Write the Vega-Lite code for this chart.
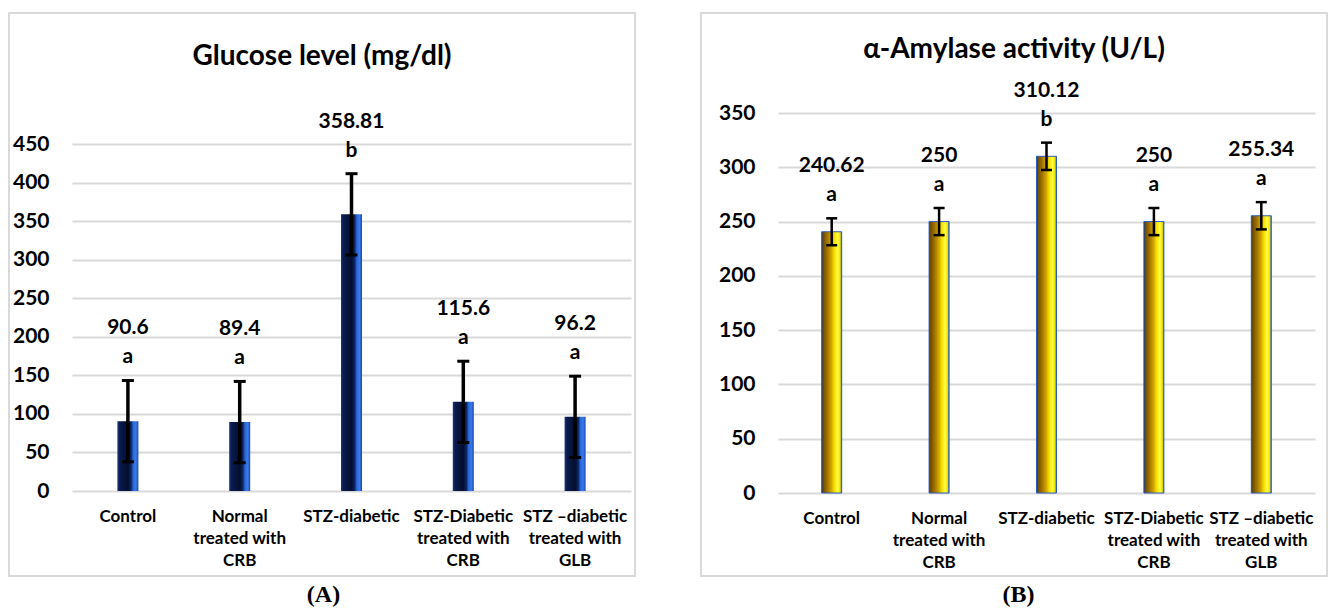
{
  "$schema": "https://vega.github.io/schema/vega-lite/v6.json",
  "background": "white",
  "padding": {"left": 8, "top": 12, "right": 2, "bottom": 2},
  "spacing": 64,
  "config": {
    "font": "Lato",
    "view": {"stroke": "#d9d9d9", "strokeWidth": 2},
    "axis": {"grid": false, "domain": false, "ticks": false, "labelFont": "Lato", "labelFontWeight": "bold", "labelColor": "#000000"}
  },
  "hconcat": [
    {
      "width": 626,
      "height": 563,
      "title": {"text": "Glucose level (mg/dl)", "font": "Lato", "fontSize": 28, "fontWeight": "bold", "color": "#000000", "offset": -80, "baseline": "alphabetic", "anchor": "middle", "frame": "group"},
      "data": {"values": [
        {"group": "Control", "mean": 90.6, "lower": 37.9, "upper": 143.3, "letter": "a"},
        {"group": "Normal treated with CRB", "mean": 89.4, "lower": 36.7, "upper": 142.1, "letter": "a"},
        {"group": "STZ-diabetic", "mean": 358.81, "lower": 306.1, "upper": 411.5, "letter": "b"},
        {"group": "STZ-Diabetic treated with CRB", "mean": 115.6, "lower": 62.9, "upper": 168.3, "letter": "a"},
        {"group": "STZ –diabetic treated with GLB", "mean": 96.2, "lower": 43.5, "upper": 148.9, "letter": "a"}
      ]},
      "encoding": {
        "x": {
          "field": "group", "type": "nominal", "sort": null,
          "scale": {"range": [63, 622], "paddingInner": 0, "paddingOuter": 0},
          "axis": {
            "title": "(A)", "titleFont": "Liberation Serif", "titleFontSize": 24, "titleFontWeight": "bold", "titleColor": "#000000",
            "titleX": 314, "titleY": 110, "titleBaseline": "alphabetic", "titleAlign": "center",
            "offset": -85, "labelAngle": 0, "labelFontSize": 17, "labelPadding": 17, "labelLineHeight": 22,
            "labelBaseline": "top", "labelAlign": "center", "labelLimit": 0,
            "labelExpr": "indexof(datum.value, ' treated with ') > 0 ? [slice(datum.value, 0, indexof(datum.value, ' treated with ')), 'treated with', slice(datum.value, indexof(datum.value, ' treated with ') + 14)] : datum.value"
          }
        }
      },
      "layer": [
        {
          "mark": {"type": "bar", "width": 21, "fill": {"gradient": "linear", "x1": 0, "x2": 1, "y1": 0, "y2": 0, "stops": [
            {"offset": 0, "color": "#18367d"}, {"offset": 0.12, "color": "#0a1b4c"}, {"offset": 0.5, "color": "#040e2e"},
            {"offset": 0.65, "color": "#0b2563"}, {"offset": 0.75, "color": "#2a66d6"}, {"offset": 0.88, "color": "#3a7aea"}, {"offset": 1, "color": "#1a48a8"}]}},
          "encoding": {
            "y": {"field": "mean", "type": "quantitative", "title": null,
              "scale": {"domain": [0, 450], "range": [478, 131], "nice": false, "zero": true},
              "axis": {"title": null, "grid": true, "gridColor": "#d9d9d9", "gridWidth": 2, "values": [0, 50, 100, 150, 200, 250, 300, 350, 400, 450],
                "offset": -40, "labelPadding": 0, "labelFontSize": 21, "labelAlign": "right", "labelBaseline": "middle"}}
          }
        },
        {
          "mark": {"type": "rule", "color": "#000000", "strokeWidth": 3.5},
          "encoding": {"y": {"field": "lower", "type": "quantitative", "title": null}, "y2": {"field": "upper"}}
        },
        {
          "mark": {"type": "tick", "color": "#000000", "size": 12, "thickness": 3, "opacity": 1},
          "encoding": {"y": {"field": "lower", "type": "quantitative", "title": null}}
        },
        {
          "mark": {"type": "tick", "color": "#000000", "size": 12, "thickness": 3, "opacity": 1},
          "encoding": {"y": {"field": "upper", "type": "quantitative", "title": null}}
        },
        {
          "mark": {"type": "text", "dy": -52, "font": "Lato", "fontWeight": "bold", "fontSize": 21, "baseline": "middle", "color": "#000000"},
          "encoding": {"y": {"field": "upper", "type": "quantitative", "title": null}, "text": {"field": "mean", "type": "nominal"}}
        },
        {
          "mark": {"type": "text", "dy": -23, "font": "Lato", "fontWeight": "bold", "fontSize": 21, "baseline": "middle", "color": "#000000"},
          "encoding": {"y": {"field": "upper", "type": "quantitative", "title": null}, "text": {"field": "letter", "type": "nominal"}}
        }
      ]
    },
    {
      "width": 626,
      "height": 563,
      "title": {"text": "α-Amylase activity (U/L)", "font": "Lato", "fontSize": 28, "fontWeight": "bold", "color": "#000000", "offset": -73, "baseline": "alphabetic", "anchor": "middle", "frame": "group"},
      "data": {"values": [
        {"group": "Control", "mean": 240.62, "lower": 228.2, "upper": 253.0, "letter": "a"},
        {"group": "Normal treated with CRB", "mean": 250, "lower": 237.5, "upper": 262.5, "letter": "a"},
        {"group": "STZ-diabetic", "mean": 310.12, "lower": 297.5, "upper": 322.7, "letter": "b"},
        {"group": "STZ-Diabetic treated with CRB", "mean": 250, "lower": 237.5, "upper": 262.5, "letter": "a"},
        {"group": "STZ –diabetic treated with GLB", "mean": 255.34, "lower": 242.8, "upper": 267.9, "letter": "a"}
      ]},
      "encoding": {
        "x": {
          "field": "group", "type": "nominal", "sort": null,
          "scale": {"range": [77, 614], "paddingInner": 0, "paddingOuter": 0},
          "axis": {
            "title": "(B)", "titleFont": "Liberation Serif", "titleFontSize": 24, "titleFontWeight": "bold", "titleColor": "#000000",
            "titleX": 317, "titleY": 108, "titleBaseline": "alphabetic", "titleAlign": "center",
            "offset": -83, "labelAngle": 0, "labelFontSize": 17, "labelPadding": 17, "labelLineHeight": 22,
            "labelBaseline": "top", "labelAlign": "center", "labelLimit": 0,
            "labelExpr": "indexof(datum.value, ' treated with ') > 0 ? [slice(datum.value, 0, indexof(datum.value, ' treated with ')), 'treated with', slice(datum.value, indexof(datum.value, ' treated with ') + 14)] : datum.value"
          }
        }
      },
      "layer": [
        {
          "mark": {"type": "bar", "width": 20, "stroke": "#2a5bc4", "strokeWidth": 1, "fill": {"gradient": "linear", "x1": 0, "x2": 1, "y1": 0, "y2": 0, "stops": [
            {"offset": 0, "color": "#1c2450"}, {"offset": 0.07, "color": "#6e4c00"}, {"offset": 0.3, "color": "#a67800"},
            {"offset": 0.5, "color": "#d4aa00"}, {"offset": 0.62, "color": "#f5dc00"}, {"offset": 0.8, "color": "#ffff40"}, {"offset": 0.92, "color": "#f0e000"}, {"offset": 1, "color": "#3060d0"}]}},
          "encoding": {
            "y": {"field": "mean", "type": "quantitative", "title": null,
              "scale": {"domain": [0, 350], "range": [480, 100], "nice": false, "zero": true},
              "axis": {"title": null, "grid": true, "gridColor": "#d9d9d9", "gridWidth": 2, "values": [0, 50, 100, 150, 200, 250, 300, 350],
                "offset": -54, "labelPadding": 0, "labelFontSize": 21, "labelAlign": "right", "labelBaseline": "middle"}}
          }
        },
        {
          "mark": {"type": "rule", "color": "#000000", "strokeWidth": 2.5},
          "encoding": {"y": {"field": "lower", "type": "quantitative", "title": null}, "y2": {"field": "upper"}}
        },
        {
          "mark": {"type": "tick", "color": "#000000", "size": 11, "thickness": 2.5, "opacity": 1},
          "encoding": {"y": {"field": "lower", "type": "quantitative", "title": null}}
        },
        {
          "mark": {"type": "tick", "color": "#000000", "size": 11, "thickness": 2.5, "opacity": 1},
          "encoding": {"y": {"field": "upper", "type": "quantitative", "title": null}}
        },
        {
          "mark": {"type": "text", "dy": -52, "font": "Lato", "fontWeight": "bold", "fontSize": 21, "baseline": "middle", "color": "#000000"},
          "encoding": {"y": {"field": "upper", "type": "quantitative", "title": null}, "text": {"field": "mean", "type": "nominal"}}
        },
        {
          "mark": {"type": "text", "dy": -23, "font": "Lato", "fontWeight": "bold", "fontSize": 21, "baseline": "middle", "color": "#000000"},
          "encoding": {"y": {"field": "upper", "type": "quantitative", "title": null}, "text": {"field": "letter", "type": "nominal"}}
        }
      ]
    }
  ]
}
